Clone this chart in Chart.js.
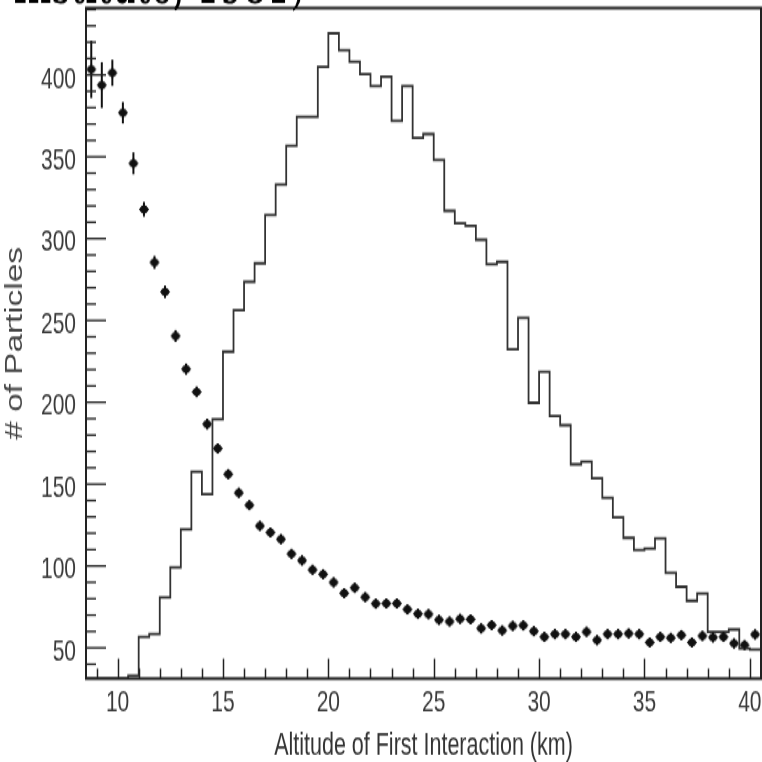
<!DOCTYPE html>
<html><head><meta charset="utf-8">
<script src="https://cdn.jsdelivr.net/npm/chart.js@4.4.1/dist/chart.umd.min.js"></script>
<style>
html,body{margin:0;padding:0;background:#fff;}
#outer{width:762px;height:762px;position:relative;}
#wrap{position:absolute;left:0;top:0;width:762px;height:526px;transform:scaleY(1.4487);transform-origin:0 0;}
</style>
</head><body>
<div id="outer"><div id="wrap"><canvas id="c" width="762" height="526"></canvas></div></div>
<script>
// ---- data ----
const binEdges = [8.5,9.0,9.5,10.0,10.5,11.0,11.5,12.0,12.5,13.0,13.5,14.0,14.5,15.0,15.5,16.0,
  16.5,17.0,17.5,18.0,18.5,19.0,19.5,20.0,20.5,21.0,21.5,22.0,22.5,23.0,23.5,24.0,
  24.5,25.0,25.5,26.0,26.5,27.0,27.5,28.0,28.5,29.0,29.5,30.0,30.5,31.0,31.5,32.0,
  32.5,33.0,33.5,34.0,34.5,35.0,35.5,36.0,36.5,37.0,37.5,38.0,38.5,39.0,39.5,40.0,40.5];
const histCounts = [31.2,31.2,31.2,31.2,33,56.7,58.4,80.8,99.1,122.3,157.5,143.9,189.6,230.9,256.3,273.6,
  284.9,314.4,333.1,356.7,374.4,374.4,405,425.4,415.2,408,400.5,393.2,398.9,372,393.2,361.6,
  363.9,348,317,309.3,307.8,299.3,284.4,285.8,232.3,251.6,199.7,218.6,191.6,186,162.1,163.7,
  153.5,141.7,129.7,117.2,109.7,110.7,116.8,95.8,87.3,78.7,83.2,59.8,59.8,61.2,49.6,49];
const pointCenters = [8.75,9.25,9.75,10.25,10.75,11.25,11.75,12.25,12.75,13.25,13.75,14.25,14.75,15.25,15.75,16.25,
  16.75,17.25,17.75,18.25,18.75,19.25,19.75,20.25,20.75,21.25,21.75,22.25,22.75,23.25,23.75,24.25,
  24.75,25.25,25.75,26.25,26.75,27.25,27.75,28.25,28.75,29.25,29.75,30.25,30.75,31.25,31.75,32.25,
  32.75,33.25,33.75,34.25,34.75,35.25,35.75,36.25,36.75,37.25,37.75,38.25,38.75,39.25,39.75,40.25];
const pointCounts = [403.4,393.8,401.3,376.9,346,317.9,285.5,267.5,240.5,220.3,206.4,186.7,171.8,156.1,144.7,137.2,
  124.5,120.5,116.4,107.4,103.4,97.7,95.0,90.0,83.4,86.7,81.0,77.0,77.1,77.1,73.5,70.8,
  70.6,67.1,66.1,67.7,67.4,61.9,63.9,60.6,63.4,63.7,60.2,56.7,58.4,58.4,56.7,59.8,
  54.7,58.4,58.4,58.8,58.4,53.3,56.7,56.1,57.8,53.3,57.3,56.4,56.7,52.7,51.7,58.2];
const pointErrors = [17.5,14,8,6.5,6.7,4.5,4,3.8,3.6,3.4,3.3,3.2,3.1,3,3,3,
  3,3,3,3,3,3,3,3,3,3,3,3,3,3,3,3,
  3,3,3,3,3,3,3,3,3,3,3,3,3,3,3,3,
  3,3,3,3,3,3,3,3,3,3,3,3,3,3,3,3];
const xTickLabels = [10,15,20,25,30,35,40];
const yTickLabels = [50,100,150,200,250,300,350,400];
const xAxisTitle = 'Altitude of First Interaction (km)';
const yAxisTitle = '# of Particles';
const topCaption = 'Institute, 1981)';

// ---- styling ----
const X_MIN = 8.5, X_MAX = 40.53, Y_MIN = 31.2, Y_MAX = 440.9;
const SANS = '"Liberation Sans", Arial, sans-serif';
const INK = '#222';
const SY = 1.4487; // vertical stretch applied by CSS

// marker image, pre-squashed so that it looks round after the vertical stretch
function makeMarker() {
  const W = 12, H = 9;
  const m = document.createElement('canvas');
  m.width = W; m.height = H;
  const g = m.getContext('2d');
  g.fillStyle = '#111';
  g.translate(W / 2, H / 2);
  g.scale(1, 1 / SY);
  g.beginPath(); g.arc(0, 0, 3.9, 0, 2 * Math.PI); g.fill();
  g.beginPath(); g.moveTo(0, -5.2); g.lineTo(5.2, 0); g.lineTo(0, 5.2); g.lineTo(-5.2, 0); g.closePath(); g.fill();
  return m;
}

const histData = binEdges.map((e, i) => ({x: e, y: histCounts[Math.min(i, histCounts.length - 1)]}));
const pointData = pointCenters.map((c, i) => ({x: c, y: pointCounts[i]}));

const decor = {
  id: 'decor',
  afterDatasetsDraw(chart) {
    const {ctx, scales: {x, y}} = chart;
    ctx.save();
    ctx.strokeStyle = '#111';
    ctx.lineWidth = 2;
    pointCenters.forEach((c, i) => {
      const px = x.getPixelForValue(c);
      ctx.beginPath();
      ctx.moveTo(px, y.getPixelForValue(pointCounts[i] + pointErrors[i]));
      ctx.lineTo(px, y.getPixelForValue(pointCounts[i] - pointErrors[i]));
      ctx.stroke();
    });
    ctx.restore();
  },
  afterDraw(chart) {
    const {ctx, chartArea: a, scales: {x, y}} = chart;
    ctx.save();
    ctx.strokeStyle = INK;
    ctx.lineWidth = 1.3;
    for (let v = 40; v <= Y_MAX; v += 10) {
      const py = y.getPixelForValue(v);
      const len = (v % 50 === 0) ? 20 : 10;
      ctx.beginPath(); ctx.moveTo(a.left, py); ctx.lineTo(a.left + len, py); ctx.stroke();
    }
    ctx.lineWidth = 1.5;
    for (let v = 9; v <= 40; v += 1) {
      const px = Math.round(x.getPixelForValue(v)) + 0.5;
      const len = ((v % 5 === 0) ? 20 : 10) / SY;
      ctx.beginPath(); ctx.moveTo(px, a.bottom); ctx.lineTo(px, a.bottom - len); ctx.stroke();
    }
    ctx.lineWidth = 2;
    ctx.strokeRect(a.left, a.top, a.right - a.left, a.bottom - a.top);
    // cropped caption at top
    ctx.fillStyle = '#000';
    let size = 40;
    ctx.font = size + 'px "DejaVu Serif"';
    const w = ctx.measureText(topCaption).width;
    size = size * 292 / w;
    ctx.font = size + 'px "DejaVu Serif"';
    ctx.textBaseline = 'alphabetic';
    ctx.fillText(topCaption, 13, 2.3);
    ctx.restore();
  }
};

new Chart(document.getElementById('c'), {
  data: {
    datasets: [
      {type: 'line', data: histData, stepped: 'before', borderColor: '#333', borderWidth: 1.8,
       pointRadius: 0, fill: false, tension: 0},
      {type: 'scatter', data: pointData, pointStyle: makeMarker(), pointRadius: 5,
       backgroundColor: '#111', borderColor: '#111', borderWidth: 0}
    ]
  },
  options: {
    responsive: false, animation: false, devicePixelRatio: 1,
    layout: {autoPadding: false, padding: {top: 5.5, right: 1, left: 0, bottom: 0}},
    plugins: {legend: {display: false}, tooltip: {enabled: false}},
    scales: {
      x: {type: 'linear', min: X_MIN, max: X_MAX,
        afterBuildTicks: s => { s.ticks = xTickLabels.map(v => ({value: v})); },
        afterFit: s => { s.height = 57.6; s.paddingLeft = 0; s.paddingRight = 0; },
        grid: {display: false, drawTicks: false}, border: {display: false},
        ticks: {padding: 4, color: '#3a3a3a', font: {family: SANS, size: 21},
          maxRotation: 0, autoSkip: false, callback: v => String(v)},
        title: {display: true, text: xAxisTitle, color: '#333',
          font: {family: SANS, size: 21.5, lineHeight: 1}, padding: {top: 0, bottom: 0}}},
      y: {type: 'linear', min: Y_MIN, max: Y_MAX,
        afterBuildTicks: s => { s.ticks = yTickLabels.map(v => ({value: v})); },
        afterFit: s => { s.width = 86; s.paddingTop = 0; s.paddingBottom = 0; },
        grid: {display: false, drawTicks: false}, border: {display: false},
        ticks: {padding: 10, labelOffset: 3, color: '#3a3a3a', font: {family: SANS, size: 21},
          autoSkip: false, callback: v => String(v)},
        title: {display: true, text: yAxisTitle, color: '#444',
          font: {family: SANS, size: 23}, padding: {top: 2, bottom: 0}}}
    }
  },
  plugins: [decor]
});
</script>
</body></html>
